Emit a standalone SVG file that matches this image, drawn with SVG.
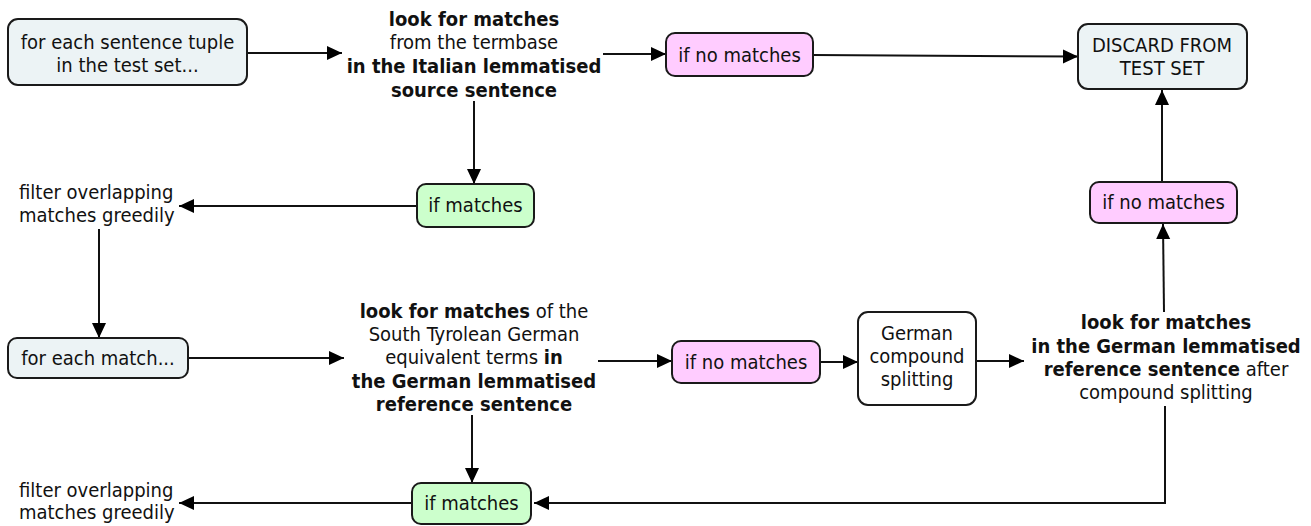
<svg xmlns="http://www.w3.org/2000/svg" width="1311" height="526" viewBox="0 0 1311 526">
<style>
text{font-family:"DejaVu Sans Condensed","DejaVu Sans",Verdana,sans-serif;font-stretch:condensed;font-size:20px;fill:#111;text-anchor:middle}
.l{text-anchor:start}
.b{font-weight:bold}
.box{stroke:#1a1a1a;stroke-width:2}
.blue{fill:#ecf3f5}
.pink{fill:#ffccff}
.green{fill:#ccffcc}
.white{fill:#ffffff}
.c{fill:none;stroke:#111;stroke-width:2;marker-end:url(#ah)}
</style>
<defs>
<marker id="ah" markerUnits="userSpaceOnUse" markerWidth="16" markerHeight="16" refX="15" refY="8" orient="auto">
<path d="M0,1 L15,8 L0,15 z" fill="#000"/>
</marker>
</defs>
<rect width="1311" height="526" fill="#fff"/>
<g id="connectors">
<line class="c" x1="247" y1="53" x2="342" y2="53"/>
<line class="c" x1="603" y1="54" x2="666" y2="54"/>
<line class="c" x1="813" y1="55" x2="1078" y2="56.5"/>
<line class="c" x1="474" y1="101" x2="474" y2="184"/>
<line class="c" x1="417" y1="206" x2="179" y2="206"/>
<line class="c" x1="99" y1="229" x2="99" y2="338"/>
<line class="c" x1="188" y1="358" x2="344" y2="358"/>
<line class="c" x1="598" y1="361" x2="672" y2="361"/>
<line class="c" x1="820" y1="362" x2="858" y2="362"/>
<line class="c" x1="976" y1="361" x2="1024" y2="361"/>
<line class="c" x1="1164" y1="312" x2="1163" y2="224"/>
<line class="c" x1="1162" y1="182" x2="1162" y2="90"/>
<polyline class="c" points="1165,406 1165,503 534,503"/>
<line class="c" x1="472" y1="415" x2="472" y2="483"/>
<line class="c" x1="412" y1="503" x2="179" y2="503"/>
</g>
<g id="n-tuple">
<rect class="box blue" x="8" y="19" width="239" height="66" rx="10"/>
<text x="127.5" y="49">for each sentence tuple</text>
<text x="127.5" y="72">in the test set...</text>
</g>
<g id="n-look-it">
<text x="474" y="26" class="b">look for matches</text>
<text x="474" y="49">from the termbase</text>
<text x="474" y="73" class="b">in the Italian lemmatised</text>
<text x="474" y="97" class="b">source sentence</text>
</g>
<g id="n-nomatch1">
<rect class="box pink" x="666" y="33" width="147" height="43" rx="9"/>
<text x="739.5" y="61.5">if no matches</text>
</g>
<g id="n-discard">
<rect class="box blue" x="1078" y="24" width="169" height="65" rx="10"/>
<text x="1162" y="52">DISCARD FROM</text>
<text x="1162" y="75">TEST SET</text>
</g>
<g id="n-match1">
<rect class="box green" x="417" y="184" width="117" height="43" rx="9"/>
<text x="475.5" y="212">if matches</text>
</g>
<g id="n-filter1">
<text class="l" x="19" y="199">filter overlapping</text>
<text class="l" x="19" y="222">matches greedily</text>
</g>
<g id="n-nomatch2">
<rect class="box pink" x="1090" y="182" width="147" height="41" rx="9"/>
<text x="1163.5" y="209">if no matches</text>
</g>
<g id="n-eachmatch">
<rect class="box blue" x="8" y="338" width="180" height="40" rx="9"/>
<text x="98" y="364.5">for each match...</text>
</g>
<g id="n-look-de">
<text x="474" y="318"><tspan class="b">look for matches</tspan> of the</text>
<text x="474" y="341">South Tyrolean German</text>
<text x="474" y="364">equivalent terms <tspan class="b">in</tspan></text>
<text x="474" y="388" class="b">the German lemmatised</text>
<text x="474" y="411" class="b">reference sentence</text>
</g>
<g id="n-nomatch3">
<rect class="box pink" x="672" y="341" width="148" height="42" rx="9"/>
<text x="746" y="368.5">if no matches</text>
</g>
<g id="n-split">
<rect class="box white" x="858" y="312" width="118" height="93" rx="10"/>
<text x="917" y="340">German</text>
<text x="917" y="363">compound</text>
<text x="917" y="386">splitting</text>
</g>
<g id="n-look-split">
<text x="1166" y="329" class="b">look for matches</text>
<text x="1166" y="353" class="b">in the German lemmatised</text>
<text x="1166" y="376"><tspan class="b">reference sentence</tspan> after</text>
<text x="1166" y="399">compound splitting</text>
</g>
<g id="n-match2">
<rect class="box green" x="412" y="483" width="119" height="41" rx="9"/>
<text x="471.5" y="510">if matches</text>
</g>
<g id="n-filter2">
<text class="l" x="19" y="497">filter overlapping</text>
<text class="l" x="19" y="519">matches greedily</text>
</g>
</svg>
